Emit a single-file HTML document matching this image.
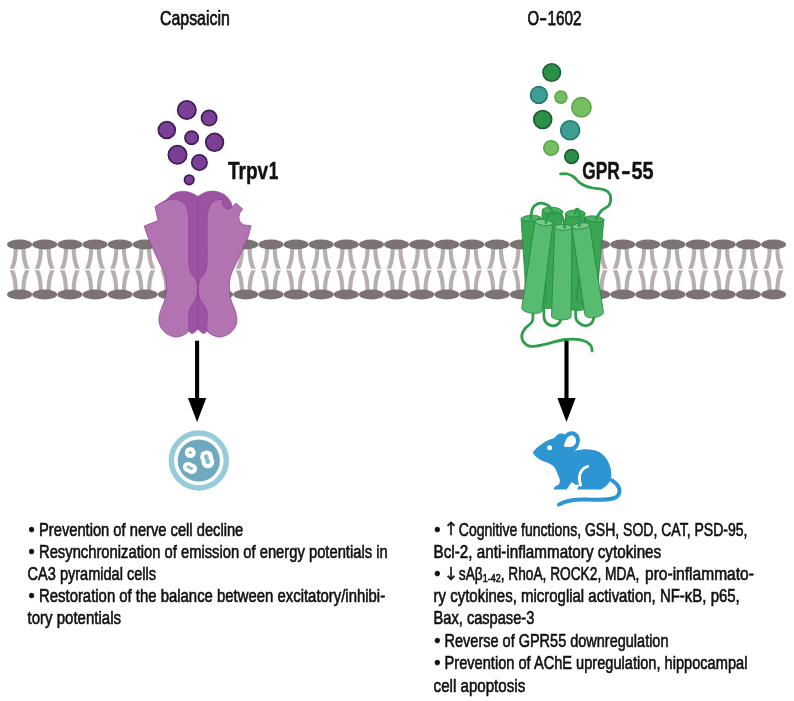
<!DOCTYPE html>
<html><head><meta charset="utf-8"><title>Figure</title>
<style>html,body{margin:0;padding:0;background:#fff;}svg{display:block;}</style>
</head><body><svg width="794" height="701" viewBox="0 0 794 701"><rect width="794" height="701" fill="#fff"/><g fill="#b8aeae"><path d="M13.70,247.00 C13.70,257.00 12.40,262.50 9.60,268.70 L14.20,268.70 C16.60,263.00 17.80,257.00 17.80,247.00 Z"/><path d="M13.70,292.00 C13.70,282.00 12.40,276.50 9.60,270.30 L14.20,270.30 C16.60,276.00 17.80,282.00 17.80,292.00 Z"/><path d="M25.50,247.00 C25.50,257.00 26.80,262.50 29.60,268.70 L25.00,268.70 C22.60,263.00 21.40,257.00 21.40,247.00 Z"/><path d="M25.50,292.00 C25.50,282.00 26.80,276.50 29.60,270.30 L25.00,270.30 C22.60,276.00 21.40,282.00 21.40,292.00 Z"/><path d="M38.83,247.00 C38.83,257.00 37.53,262.50 34.73,268.70 L39.33,268.70 C41.73,263.00 42.93,257.00 42.93,247.00 Z"/><path d="M38.83,292.00 C38.83,282.00 37.53,276.50 34.73,270.30 L39.33,270.30 C41.73,276.00 42.93,282.00 42.93,292.00 Z"/><path d="M50.63,247.00 C50.63,257.00 51.93,262.50 54.73,268.70 L50.13,268.70 C47.73,263.00 46.53,257.00 46.53,247.00 Z"/><path d="M50.63,292.00 C50.63,282.00 51.93,276.50 54.73,270.30 L50.13,270.30 C47.73,276.00 46.53,282.00 46.53,292.00 Z"/><path d="M63.96,247.00 C63.96,257.00 62.66,262.50 59.86,268.70 L64.46,268.70 C66.86,263.00 68.06,257.00 68.06,247.00 Z"/><path d="M63.96,292.00 C63.96,282.00 62.66,276.50 59.86,270.30 L64.46,270.30 C66.86,276.00 68.06,282.00 68.06,292.00 Z"/><path d="M75.76,247.00 C75.76,257.00 77.06,262.50 79.86,268.70 L75.26,268.70 C72.86,263.00 71.66,257.00 71.66,247.00 Z"/><path d="M75.76,292.00 C75.76,282.00 77.06,276.50 79.86,270.30 L75.26,270.30 C72.86,276.00 71.66,282.00 71.66,292.00 Z"/><path d="M89.09,247.00 C89.09,257.00 87.79,262.50 84.99,268.70 L89.59,268.70 C91.99,263.00 93.19,257.00 93.19,247.00 Z"/><path d="M89.09,292.00 C89.09,282.00 87.79,276.50 84.99,270.30 L89.59,270.30 C91.99,276.00 93.19,282.00 93.19,292.00 Z"/><path d="M100.89,247.00 C100.89,257.00 102.19,262.50 104.99,268.70 L100.39,268.70 C97.99,263.00 96.79,257.00 96.79,247.00 Z"/><path d="M100.89,292.00 C100.89,282.00 102.19,276.50 104.99,270.30 L100.39,270.30 C97.99,276.00 96.79,282.00 96.79,292.00 Z"/><path d="M114.22,247.00 C114.22,257.00 112.92,262.50 110.12,268.70 L114.72,268.70 C117.12,263.00 118.32,257.00 118.32,247.00 Z"/><path d="M114.22,292.00 C114.22,282.00 112.92,276.50 110.12,270.30 L114.72,270.30 C117.12,276.00 118.32,282.00 118.32,292.00 Z"/><path d="M126.02,247.00 C126.02,257.00 127.32,262.50 130.12,268.70 L125.52,268.70 C123.12,263.00 121.92,257.00 121.92,247.00 Z"/><path d="M126.02,292.00 C126.02,282.00 127.32,276.50 130.12,270.30 L125.52,270.30 C123.12,276.00 121.92,282.00 121.92,292.00 Z"/><path d="M139.35,247.00 C139.35,257.00 138.05,262.50 135.25,268.70 L139.85,268.70 C142.25,263.00 143.45,257.00 143.45,247.00 Z"/><path d="M139.35,292.00 C139.35,282.00 138.05,276.50 135.25,270.30 L139.85,270.30 C142.25,276.00 143.45,282.00 143.45,292.00 Z"/><path d="M151.15,247.00 C151.15,257.00 152.45,262.50 155.25,268.70 L150.65,268.70 C148.25,263.00 147.05,257.00 147.05,247.00 Z"/><path d="M151.15,292.00 C151.15,282.00 152.45,276.50 155.25,270.30 L150.65,270.30 C148.25,276.00 147.05,282.00 147.05,292.00 Z"/><path d="M164.48,247.00 C164.48,257.00 163.18,262.50 160.38,268.70 L164.98,268.70 C167.38,263.00 168.58,257.00 168.58,247.00 Z"/><path d="M164.48,292.00 C164.48,282.00 163.18,276.50 160.38,270.30 L164.98,270.30 C167.38,276.00 168.58,282.00 168.58,292.00 Z"/><path d="M176.28,247.00 C176.28,257.00 177.58,262.50 180.38,268.70 L175.78,268.70 C173.38,263.00 172.18,257.00 172.18,247.00 Z"/><path d="M176.28,292.00 C176.28,282.00 177.58,276.50 180.38,270.30 L175.78,270.30 C173.38,276.00 172.18,282.00 172.18,292.00 Z"/><path d="M189.61,247.00 C189.61,257.00 188.31,262.50 185.51,268.70 L190.11,268.70 C192.51,263.00 193.71,257.00 193.71,247.00 Z"/><path d="M189.61,292.00 C189.61,282.00 188.31,276.50 185.51,270.30 L190.11,270.30 C192.51,276.00 193.71,282.00 193.71,292.00 Z"/><path d="M201.41,247.00 C201.41,257.00 202.71,262.50 205.51,268.70 L200.91,268.70 C198.51,263.00 197.31,257.00 197.31,247.00 Z"/><path d="M201.41,292.00 C201.41,282.00 202.71,276.50 205.51,270.30 L200.91,270.30 C198.51,276.00 197.31,282.00 197.31,292.00 Z"/><path d="M214.74,247.00 C214.74,257.00 213.44,262.50 210.64,268.70 L215.24,268.70 C217.64,263.00 218.84,257.00 218.84,247.00 Z"/><path d="M214.74,292.00 C214.74,282.00 213.44,276.50 210.64,270.30 L215.24,270.30 C217.64,276.00 218.84,282.00 218.84,292.00 Z"/><path d="M226.54,247.00 C226.54,257.00 227.84,262.50 230.64,268.70 L226.04,268.70 C223.64,263.00 222.44,257.00 222.44,247.00 Z"/><path d="M226.54,292.00 C226.54,282.00 227.84,276.50 230.64,270.30 L226.04,270.30 C223.64,276.00 222.44,282.00 222.44,292.00 Z"/><path d="M239.87,247.00 C239.87,257.00 238.57,262.50 235.77,268.70 L240.37,268.70 C242.77,263.00 243.97,257.00 243.97,247.00 Z"/><path d="M239.87,292.00 C239.87,282.00 238.57,276.50 235.77,270.30 L240.37,270.30 C242.77,276.00 243.97,282.00 243.97,292.00 Z"/><path d="M251.67,247.00 C251.67,257.00 252.97,262.50 255.77,268.70 L251.17,268.70 C248.77,263.00 247.57,257.00 247.57,247.00 Z"/><path d="M251.67,292.00 C251.67,282.00 252.97,276.50 255.77,270.30 L251.17,270.30 C248.77,276.00 247.57,282.00 247.57,292.00 Z"/><path d="M265.00,247.00 C265.00,257.00 263.70,262.50 260.90,268.70 L265.50,268.70 C267.90,263.00 269.10,257.00 269.10,247.00 Z"/><path d="M265.00,292.00 C265.00,282.00 263.70,276.50 260.90,270.30 L265.50,270.30 C267.90,276.00 269.10,282.00 269.10,292.00 Z"/><path d="M276.80,247.00 C276.80,257.00 278.10,262.50 280.90,268.70 L276.30,268.70 C273.90,263.00 272.70,257.00 272.70,247.00 Z"/><path d="M276.80,292.00 C276.80,282.00 278.10,276.50 280.90,270.30 L276.30,270.30 C273.90,276.00 272.70,282.00 272.70,292.00 Z"/><path d="M290.13,247.00 C290.13,257.00 288.83,262.50 286.03,268.70 L290.63,268.70 C293.03,263.00 294.23,257.00 294.23,247.00 Z"/><path d="M290.13,292.00 C290.13,282.00 288.83,276.50 286.03,270.30 L290.63,270.30 C293.03,276.00 294.23,282.00 294.23,292.00 Z"/><path d="M301.93,247.00 C301.93,257.00 303.23,262.50 306.03,268.70 L301.43,268.70 C299.03,263.00 297.83,257.00 297.83,247.00 Z"/><path d="M301.93,292.00 C301.93,282.00 303.23,276.50 306.03,270.30 L301.43,270.30 C299.03,276.00 297.83,282.00 297.83,292.00 Z"/><path d="M315.26,247.00 C315.26,257.00 313.96,262.50 311.16,268.70 L315.76,268.70 C318.16,263.00 319.36,257.00 319.36,247.00 Z"/><path d="M315.26,292.00 C315.26,282.00 313.96,276.50 311.16,270.30 L315.76,270.30 C318.16,276.00 319.36,282.00 319.36,292.00 Z"/><path d="M327.06,247.00 C327.06,257.00 328.36,262.50 331.16,268.70 L326.56,268.70 C324.16,263.00 322.96,257.00 322.96,247.00 Z"/><path d="M327.06,292.00 C327.06,282.00 328.36,276.50 331.16,270.30 L326.56,270.30 C324.16,276.00 322.96,282.00 322.96,292.00 Z"/><path d="M340.39,247.00 C340.39,257.00 339.09,262.50 336.29,268.70 L340.89,268.70 C343.29,263.00 344.49,257.00 344.49,247.00 Z"/><path d="M340.39,292.00 C340.39,282.00 339.09,276.50 336.29,270.30 L340.89,270.30 C343.29,276.00 344.49,282.00 344.49,292.00 Z"/><path d="M352.19,247.00 C352.19,257.00 353.49,262.50 356.29,268.70 L351.69,268.70 C349.29,263.00 348.09,257.00 348.09,247.00 Z"/><path d="M352.19,292.00 C352.19,282.00 353.49,276.50 356.29,270.30 L351.69,270.30 C349.29,276.00 348.09,282.00 348.09,292.00 Z"/><path d="M365.52,247.00 C365.52,257.00 364.22,262.50 361.42,268.70 L366.02,268.70 C368.42,263.00 369.62,257.00 369.62,247.00 Z"/><path d="M365.52,292.00 C365.52,282.00 364.22,276.50 361.42,270.30 L366.02,270.30 C368.42,276.00 369.62,282.00 369.62,292.00 Z"/><path d="M377.32,247.00 C377.32,257.00 378.62,262.50 381.42,268.70 L376.82,268.70 C374.42,263.00 373.22,257.00 373.22,247.00 Z"/><path d="M377.32,292.00 C377.32,282.00 378.62,276.50 381.42,270.30 L376.82,270.30 C374.42,276.00 373.22,282.00 373.22,292.00 Z"/><path d="M390.65,247.00 C390.65,257.00 389.35,262.50 386.55,268.70 L391.15,268.70 C393.55,263.00 394.75,257.00 394.75,247.00 Z"/><path d="M390.65,292.00 C390.65,282.00 389.35,276.50 386.55,270.30 L391.15,270.30 C393.55,276.00 394.75,282.00 394.75,292.00 Z"/><path d="M402.45,247.00 C402.45,257.00 403.75,262.50 406.55,268.70 L401.95,268.70 C399.55,263.00 398.35,257.00 398.35,247.00 Z"/><path d="M402.45,292.00 C402.45,282.00 403.75,276.50 406.55,270.30 L401.95,270.30 C399.55,276.00 398.35,282.00 398.35,292.00 Z"/><path d="M415.78,247.00 C415.78,257.00 414.48,262.50 411.68,268.70 L416.28,268.70 C418.68,263.00 419.88,257.00 419.88,247.00 Z"/><path d="M415.78,292.00 C415.78,282.00 414.48,276.50 411.68,270.30 L416.28,270.30 C418.68,276.00 419.88,282.00 419.88,292.00 Z"/><path d="M427.58,247.00 C427.58,257.00 428.88,262.50 431.68,268.70 L427.08,268.70 C424.68,263.00 423.48,257.00 423.48,247.00 Z"/><path d="M427.58,292.00 C427.58,282.00 428.88,276.50 431.68,270.30 L427.08,270.30 C424.68,276.00 423.48,282.00 423.48,292.00 Z"/><path d="M440.91,247.00 C440.91,257.00 439.61,262.50 436.81,268.70 L441.41,268.70 C443.81,263.00 445.01,257.00 445.01,247.00 Z"/><path d="M440.91,292.00 C440.91,282.00 439.61,276.50 436.81,270.30 L441.41,270.30 C443.81,276.00 445.01,282.00 445.01,292.00 Z"/><path d="M452.71,247.00 C452.71,257.00 454.01,262.50 456.81,268.70 L452.21,268.70 C449.81,263.00 448.61,257.00 448.61,247.00 Z"/><path d="M452.71,292.00 C452.71,282.00 454.01,276.50 456.81,270.30 L452.21,270.30 C449.81,276.00 448.61,282.00 448.61,292.00 Z"/><path d="M466.04,247.00 C466.04,257.00 464.74,262.50 461.94,268.70 L466.54,268.70 C468.94,263.00 470.14,257.00 470.14,247.00 Z"/><path d="M466.04,292.00 C466.04,282.00 464.74,276.50 461.94,270.30 L466.54,270.30 C468.94,276.00 470.14,282.00 470.14,292.00 Z"/><path d="M477.84,247.00 C477.84,257.00 479.14,262.50 481.94,268.70 L477.34,268.70 C474.94,263.00 473.74,257.00 473.74,247.00 Z"/><path d="M477.84,292.00 C477.84,282.00 479.14,276.50 481.94,270.30 L477.34,270.30 C474.94,276.00 473.74,282.00 473.74,292.00 Z"/><path d="M491.17,247.00 C491.17,257.00 489.87,262.50 487.07,268.70 L491.67,268.70 C494.07,263.00 495.27,257.00 495.27,247.00 Z"/><path d="M491.17,292.00 C491.17,282.00 489.87,276.50 487.07,270.30 L491.67,270.30 C494.07,276.00 495.27,282.00 495.27,292.00 Z"/><path d="M502.97,247.00 C502.97,257.00 504.27,262.50 507.07,268.70 L502.47,268.70 C500.07,263.00 498.87,257.00 498.87,247.00 Z"/><path d="M502.97,292.00 C502.97,282.00 504.27,276.50 507.07,270.30 L502.47,270.30 C500.07,276.00 498.87,282.00 498.87,292.00 Z"/><path d="M516.30,247.00 C516.30,257.00 515.00,262.50 512.20,268.70 L516.80,268.70 C519.20,263.00 520.40,257.00 520.40,247.00 Z"/><path d="M516.30,292.00 C516.30,282.00 515.00,276.50 512.20,270.30 L516.80,270.30 C519.20,276.00 520.40,282.00 520.40,292.00 Z"/><path d="M528.10,247.00 C528.10,257.00 529.40,262.50 532.20,268.70 L527.60,268.70 C525.20,263.00 524.00,257.00 524.00,247.00 Z"/><path d="M528.10,292.00 C528.10,282.00 529.40,276.50 532.20,270.30 L527.60,270.30 C525.20,276.00 524.00,282.00 524.00,292.00 Z"/><path d="M541.43,247.00 C541.43,257.00 540.13,262.50 537.33,268.70 L541.93,268.70 C544.33,263.00 545.53,257.00 545.53,247.00 Z"/><path d="M541.43,292.00 C541.43,282.00 540.13,276.50 537.33,270.30 L541.93,270.30 C544.33,276.00 545.53,282.00 545.53,292.00 Z"/><path d="M553.23,247.00 C553.23,257.00 554.53,262.50 557.33,268.70 L552.73,268.70 C550.33,263.00 549.13,257.00 549.13,247.00 Z"/><path d="M553.23,292.00 C553.23,282.00 554.53,276.50 557.33,270.30 L552.73,270.30 C550.33,276.00 549.13,282.00 549.13,292.00 Z"/><path d="M566.56,247.00 C566.56,257.00 565.26,262.50 562.46,268.70 L567.06,268.70 C569.46,263.00 570.66,257.00 570.66,247.00 Z"/><path d="M566.56,292.00 C566.56,282.00 565.26,276.50 562.46,270.30 L567.06,270.30 C569.46,276.00 570.66,282.00 570.66,292.00 Z"/><path d="M578.36,247.00 C578.36,257.00 579.66,262.50 582.46,268.70 L577.86,268.70 C575.46,263.00 574.26,257.00 574.26,247.00 Z"/><path d="M578.36,292.00 C578.36,282.00 579.66,276.50 582.46,270.30 L577.86,270.30 C575.46,276.00 574.26,282.00 574.26,292.00 Z"/><path d="M591.69,247.00 C591.69,257.00 590.39,262.50 587.59,268.70 L592.19,268.70 C594.59,263.00 595.79,257.00 595.79,247.00 Z"/><path d="M591.69,292.00 C591.69,282.00 590.39,276.50 587.59,270.30 L592.19,270.30 C594.59,276.00 595.79,282.00 595.79,292.00 Z"/><path d="M603.49,247.00 C603.49,257.00 604.79,262.50 607.59,268.70 L602.99,268.70 C600.59,263.00 599.39,257.00 599.39,247.00 Z"/><path d="M603.49,292.00 C603.49,282.00 604.79,276.50 607.59,270.30 L602.99,270.30 C600.59,276.00 599.39,282.00 599.39,292.00 Z"/><path d="M616.82,247.00 C616.82,257.00 615.52,262.50 612.72,268.70 L617.32,268.70 C619.72,263.00 620.92,257.00 620.92,247.00 Z"/><path d="M616.82,292.00 C616.82,282.00 615.52,276.50 612.72,270.30 L617.32,270.30 C619.72,276.00 620.92,282.00 620.92,292.00 Z"/><path d="M628.62,247.00 C628.62,257.00 629.92,262.50 632.72,268.70 L628.12,268.70 C625.72,263.00 624.52,257.00 624.52,247.00 Z"/><path d="M628.62,292.00 C628.62,282.00 629.92,276.50 632.72,270.30 L628.12,270.30 C625.72,276.00 624.52,282.00 624.52,292.00 Z"/><path d="M641.95,247.00 C641.95,257.00 640.65,262.50 637.85,268.70 L642.45,268.70 C644.85,263.00 646.05,257.00 646.05,247.00 Z"/><path d="M641.95,292.00 C641.95,282.00 640.65,276.50 637.85,270.30 L642.45,270.30 C644.85,276.00 646.05,282.00 646.05,292.00 Z"/><path d="M653.75,247.00 C653.75,257.00 655.05,262.50 657.85,268.70 L653.25,268.70 C650.85,263.00 649.65,257.00 649.65,247.00 Z"/><path d="M653.75,292.00 C653.75,282.00 655.05,276.50 657.85,270.30 L653.25,270.30 C650.85,276.00 649.65,282.00 649.65,292.00 Z"/><path d="M667.08,247.00 C667.08,257.00 665.78,262.50 662.98,268.70 L667.58,268.70 C669.98,263.00 671.18,257.00 671.18,247.00 Z"/><path d="M667.08,292.00 C667.08,282.00 665.78,276.50 662.98,270.30 L667.58,270.30 C669.98,276.00 671.18,282.00 671.18,292.00 Z"/><path d="M678.88,247.00 C678.88,257.00 680.18,262.50 682.98,268.70 L678.38,268.70 C675.98,263.00 674.78,257.00 674.78,247.00 Z"/><path d="M678.88,292.00 C678.88,282.00 680.18,276.50 682.98,270.30 L678.38,270.30 C675.98,276.00 674.78,282.00 674.78,292.00 Z"/><path d="M692.21,247.00 C692.21,257.00 690.91,262.50 688.11,268.70 L692.71,268.70 C695.11,263.00 696.31,257.00 696.31,247.00 Z"/><path d="M692.21,292.00 C692.21,282.00 690.91,276.50 688.11,270.30 L692.71,270.30 C695.11,276.00 696.31,282.00 696.31,292.00 Z"/><path d="M704.01,247.00 C704.01,257.00 705.31,262.50 708.11,268.70 L703.51,268.70 C701.11,263.00 699.91,257.00 699.91,247.00 Z"/><path d="M704.01,292.00 C704.01,282.00 705.31,276.50 708.11,270.30 L703.51,270.30 C701.11,276.00 699.91,282.00 699.91,292.00 Z"/><path d="M717.34,247.00 C717.34,257.00 716.04,262.50 713.24,268.70 L717.84,268.70 C720.24,263.00 721.44,257.00 721.44,247.00 Z"/><path d="M717.34,292.00 C717.34,282.00 716.04,276.50 713.24,270.30 L717.84,270.30 C720.24,276.00 721.44,282.00 721.44,292.00 Z"/><path d="M729.14,247.00 C729.14,257.00 730.44,262.50 733.24,268.70 L728.64,268.70 C726.24,263.00 725.04,257.00 725.04,247.00 Z"/><path d="M729.14,292.00 C729.14,282.00 730.44,276.50 733.24,270.30 L728.64,270.30 C726.24,276.00 725.04,282.00 725.04,292.00 Z"/><path d="M742.47,247.00 C742.47,257.00 741.17,262.50 738.37,268.70 L742.97,268.70 C745.37,263.00 746.57,257.00 746.57,247.00 Z"/><path d="M742.47,292.00 C742.47,282.00 741.17,276.50 738.37,270.30 L742.97,270.30 C745.37,276.00 746.57,282.00 746.57,292.00 Z"/><path d="M754.27,247.00 C754.27,257.00 755.57,262.50 758.37,268.70 L753.77,268.70 C751.37,263.00 750.17,257.00 750.17,247.00 Z"/><path d="M754.27,292.00 C754.27,282.00 755.57,276.50 758.37,270.30 L753.77,270.30 C751.37,276.00 750.17,282.00 750.17,292.00 Z"/><path d="M767.60,247.00 C767.60,257.00 766.30,262.50 763.50,268.70 L768.10,268.70 C770.50,263.00 771.70,257.00 771.70,247.00 Z"/><path d="M767.60,292.00 C767.60,282.00 766.30,276.50 763.50,270.30 L768.10,270.30 C770.50,276.00 771.70,282.00 771.70,292.00 Z"/><path d="M779.40,247.00 C779.40,257.00 780.70,262.50 783.50,268.70 L778.90,268.70 C776.50,263.00 775.30,257.00 775.30,247.00 Z"/><path d="M779.40,292.00 C779.40,282.00 780.70,276.50 783.50,270.30 L778.90,270.30 C776.50,276.00 775.30,282.00 775.30,292.00 Z"/></g><g fill="#7b7373"><ellipse cx="19.60" cy="244.5" rx="12.5" ry="5"/><ellipse cx="19.60" cy="294.5" rx="12.5" ry="5"/><ellipse cx="44.73" cy="244.5" rx="12.5" ry="5"/><ellipse cx="44.73" cy="294.5" rx="12.5" ry="5"/><ellipse cx="69.86" cy="244.5" rx="12.5" ry="5"/><ellipse cx="69.86" cy="294.5" rx="12.5" ry="5"/><ellipse cx="94.99" cy="244.5" rx="12.5" ry="5"/><ellipse cx="94.99" cy="294.5" rx="12.5" ry="5"/><ellipse cx="120.12" cy="244.5" rx="12.5" ry="5"/><ellipse cx="120.12" cy="294.5" rx="12.5" ry="5"/><ellipse cx="145.25" cy="244.5" rx="12.5" ry="5"/><ellipse cx="145.25" cy="294.5" rx="12.5" ry="5"/><ellipse cx="170.38" cy="244.5" rx="12.5" ry="5"/><ellipse cx="170.38" cy="294.5" rx="12.5" ry="5"/><ellipse cx="195.51" cy="244.5" rx="12.5" ry="5"/><ellipse cx="195.51" cy="294.5" rx="12.5" ry="5"/><ellipse cx="220.64" cy="244.5" rx="12.5" ry="5"/><ellipse cx="220.64" cy="294.5" rx="12.5" ry="5"/><ellipse cx="245.77" cy="244.5" rx="12.5" ry="5"/><ellipse cx="245.77" cy="294.5" rx="12.5" ry="5"/><ellipse cx="270.90" cy="244.5" rx="12.5" ry="5"/><ellipse cx="270.90" cy="294.5" rx="12.5" ry="5"/><ellipse cx="296.03" cy="244.5" rx="12.5" ry="5"/><ellipse cx="296.03" cy="294.5" rx="12.5" ry="5"/><ellipse cx="321.16" cy="244.5" rx="12.5" ry="5"/><ellipse cx="321.16" cy="294.5" rx="12.5" ry="5"/><ellipse cx="346.29" cy="244.5" rx="12.5" ry="5"/><ellipse cx="346.29" cy="294.5" rx="12.5" ry="5"/><ellipse cx="371.42" cy="244.5" rx="12.5" ry="5"/><ellipse cx="371.42" cy="294.5" rx="12.5" ry="5"/><ellipse cx="396.55" cy="244.5" rx="12.5" ry="5"/><ellipse cx="396.55" cy="294.5" rx="12.5" ry="5"/><ellipse cx="421.68" cy="244.5" rx="12.5" ry="5"/><ellipse cx="421.68" cy="294.5" rx="12.5" ry="5"/><ellipse cx="446.81" cy="244.5" rx="12.5" ry="5"/><ellipse cx="446.81" cy="294.5" rx="12.5" ry="5"/><ellipse cx="471.94" cy="244.5" rx="12.5" ry="5"/><ellipse cx="471.94" cy="294.5" rx="12.5" ry="5"/><ellipse cx="497.07" cy="244.5" rx="12.5" ry="5"/><ellipse cx="497.07" cy="294.5" rx="12.5" ry="5"/><ellipse cx="522.20" cy="244.5" rx="12.5" ry="5"/><ellipse cx="522.20" cy="294.5" rx="12.5" ry="5"/><ellipse cx="547.33" cy="244.5" rx="12.5" ry="5"/><ellipse cx="547.33" cy="294.5" rx="12.5" ry="5"/><ellipse cx="572.46" cy="244.5" rx="12.5" ry="5"/><ellipse cx="572.46" cy="294.5" rx="12.5" ry="5"/><ellipse cx="597.59" cy="244.5" rx="12.5" ry="5"/><ellipse cx="597.59" cy="294.5" rx="12.5" ry="5"/><ellipse cx="622.72" cy="244.5" rx="12.5" ry="5"/><ellipse cx="622.72" cy="294.5" rx="12.5" ry="5"/><ellipse cx="647.85" cy="244.5" rx="12.5" ry="5"/><ellipse cx="647.85" cy="294.5" rx="12.5" ry="5"/><ellipse cx="672.98" cy="244.5" rx="12.5" ry="5"/><ellipse cx="672.98" cy="294.5" rx="12.5" ry="5"/><ellipse cx="698.11" cy="244.5" rx="12.5" ry="5"/><ellipse cx="698.11" cy="294.5" rx="12.5" ry="5"/><ellipse cx="723.24" cy="244.5" rx="12.5" ry="5"/><ellipse cx="723.24" cy="294.5" rx="12.5" ry="5"/><ellipse cx="748.37" cy="244.5" rx="12.5" ry="5"/><ellipse cx="748.37" cy="294.5" rx="12.5" ry="5"/><ellipse cx="773.50" cy="244.5" rx="12.5" ry="5"/><ellipse cx="773.50" cy="294.5" rx="12.5" ry="5"/></g><g fill="#7b3f98" stroke="#3e1d53" stroke-width="1.7" transform="translate(0,0.3)"><circle cx="186.8" cy="109.7" r="9.15"/><circle cx="209.1" cy="117.8" r="7.65"/><circle cx="166.8" cy="129.7" r="8.45"/><circle cx="191.6" cy="137.4" r="6.65"/><circle cx="214.6" cy="142" r="8.85"/><circle cx="177.5" cy="154.5" r="9.15"/><circle cx="199.4" cy="162.1" r="7.65"/><circle cx="189.2" cy="179.5" r="4.75"/></g><g stroke-width="1.7"><circle cx="551.7" cy="72.5" r="8.75" fill="#2a8f47" stroke="#1b6030"/><circle cx="538.9" cy="94.9" r="8.35" fill="#3e9e92" stroke="#237872"/><circle cx="560.9" cy="97.1" r="5.95" fill="#75bf62" stroke="#5aa849"/><circle cx="581.4" cy="107.3" r="9.65" fill="#75bf62" stroke="#5aa849"/><circle cx="542.7" cy="119.5" r="8.95" fill="#2a8f47" stroke="#1b6030"/><circle cx="570.1" cy="130.2" r="9.45" fill="#3e9e92" stroke="#237872"/><circle cx="551.1" cy="148" r="7.25" fill="#75bf62" stroke="#5aa849"/><circle cx="571.6" cy="156.5" r="6.85" fill="#2a8f47" stroke="#1b6030"/></g><g stroke-linejoin="round"><path d="M155.10,206.90C156.98,205.65 163.50,201.53 166.40,199.40 C169.30,197.27 170.10,195.45 172.50,194.10 C174.90,192.75 177.90,191.60 180.80,191.30 C183.70,191.00 187.05,191.47 189.90,192.30 C192.75,193.13 196.57,195.63 197.90,196.30C199.33,195.55 203.55,192.63 206.50,191.80 C209.45,190.97 212.58,190.80 215.60,191.30 C218.62,191.80 222.08,193.08 224.60,194.80 C227.12,196.52 229.43,199.58 230.70,201.60 C231.97,203.62 231.95,206.02 232.20,206.90L225.00,215.00 L215.00,330.00 L207.30,331.00C206.63,331.43 204.87,333.88 203.30,333.60 C201.73,333.32 198.80,330.02 197.90,329.30C197.00,330.02 194.08,333.32 192.50,333.60 C190.92,333.88 189.08,331.43 188.40,331.00L180.00,330.00 L170.00,215.00Z" fill="#9c53a2" stroke="#9142a2" stroke-width="0.5"/><path d="M197.9,196.3 L197.9,329" stroke="#8f459b" stroke-width="0.8" fill="none"/><path d="M155.10,206.90C156.37,206.07 159.80,203.15 162.70,201.90 C165.60,200.65 169.48,199.57 172.50,199.40 C175.52,199.23 178.53,199.77 180.80,200.90 C183.07,202.03 184.83,203.82 186.10,206.20 C187.37,208.58 187.97,211.23 188.40,215.20 C188.83,219.17 188.65,222.53 188.70,230.00 C188.75,237.47 188.63,254.00 188.70,260.00 C188.77,266.00 188.65,263.73 189.10,266.00 C189.55,268.27 190.22,271.27 191.40,273.60 C192.58,275.93 195.22,277.60 196.20,280.00 C197.18,282.40 197.20,285.33 197.30,288.00 C197.40,290.67 197.28,293.73 196.80,296.00 C196.32,298.27 195.55,299.53 194.40,301.60 C193.25,303.67 190.90,305.77 189.90,308.40 C188.90,311.03 188.53,314.38 188.40,317.40 C188.27,320.42 189.10,324.23 189.10,326.50 C189.10,328.77 189.03,329.73 188.40,331.00 C187.77,332.27 187.32,333.08 185.30,334.10 C183.28,335.12 179.32,337.10 176.30,337.10 C173.28,337.10 169.72,335.62 167.20,334.10 C164.68,332.58 162.58,330.27 161.20,328.00 C159.82,325.73 159.03,323.27 158.90,320.50 C158.77,317.73 159.40,314.93 160.40,311.40 C161.40,307.87 163.90,303.33 164.90,299.30 C165.90,295.27 166.40,291.23 166.40,287.20 C166.40,283.17 166.28,279.63 164.90,275.10 C163.52,270.57 160.37,265.02 158.10,260.00 C155.83,254.98 152.93,248.68 151.30,245.00 C149.67,241.32 149.48,241.05 148.30,237.90 C147.12,234.75 144.88,228.07 144.20,226.10L158.10,220.50Z" fill="#b274b0" stroke="#9142a2" stroke-width="0.8"/><path d="M251.10,225.80L244.30,225.00C243.68,224.58 241.50,223.67 240.60,222.50 C239.70,221.33 239.05,219.58 238.90,218.00 C238.75,216.42 239.57,213.83 239.70,213.00L242.80,209.20 L236.00,203.10 L232.20,206.90C231.82,207.23 231.03,208.65 229.90,208.90 C228.77,209.15 226.65,209.12 225.40,208.40 C224.15,207.68 222.83,205.98 222.40,204.60 C221.97,203.22 222.73,200.85 222.80,200.10C222.35,199.98 221.55,199.27 220.10,199.40 C218.65,199.53 215.85,199.77 214.10,200.90 C212.35,202.03 210.72,203.82 209.60,206.20 C208.48,208.58 207.82,211.23 207.40,215.20 C206.98,219.17 207.15,222.53 207.10,230.00 C207.05,237.47 207.17,254.00 207.10,260.00 C207.03,266.00 207.15,263.73 206.70,266.00 C206.25,268.27 205.58,271.27 204.40,273.60 C203.22,275.93 200.58,277.60 199.60,280.00 C198.62,282.40 198.60,285.33 198.50,288.00 C198.40,290.67 198.52,293.73 199.00,296.00 C199.48,298.27 200.25,299.53 201.40,301.60 C202.55,303.67 204.90,305.77 205.90,308.40 C206.90,311.03 207.27,314.38 207.40,317.40 C207.53,320.42 206.70,324.23 206.70,326.50 C206.70,328.77 206.77,329.73 207.40,331.00 C208.03,332.27 208.48,333.08 210.50,334.10 C212.52,335.12 216.48,337.10 219.50,337.10 C222.52,337.10 226.08,335.62 228.60,334.10 C231.12,332.58 233.22,330.27 234.60,328.00 C235.98,325.73 236.77,323.27 236.90,320.50 C237.03,317.73 236.40,314.93 235.40,311.40 C234.40,307.87 231.90,303.33 230.90,299.30 C229.90,295.27 229.40,291.23 229.40,287.20 C229.40,283.17 229.52,279.63 230.90,275.10 C232.28,270.57 235.43,265.02 237.70,260.00 C239.97,254.98 242.82,248.68 244.50,245.00 C246.18,241.32 246.70,241.10 247.80,237.90 C248.90,234.70 250.55,227.82 251.10,225.80Z" fill="#b274b0" stroke="#9142a2" stroke-width="0.8"/></g><g stroke-linecap="round" stroke-linejoin="round"><path d="M542.32,210.11 L536.72,304.41 A10.00,3.50 3.40 0 0 556.68,305.59 L562.28,211.29 Z" fill="#3aa553" stroke="#218b3d" stroke-width="0.85"/><ellipse cx="552.30" cy="210.70" rx="10.00" ry="3.50" transform="rotate(3.40 552.30 210.70)" fill="#4cb365" stroke="#218b3d" stroke-width="0.85"/><path d="M565.40,213.79 L567.90,307.30 A10.00,3.50 -1.72 0 0 587.90,306.70 L584.80,213.21 Z" fill="#3aa553" stroke="#218b3d" stroke-width="0.85"/><ellipse cx="575.10" cy="213.50" rx="9.70" ry="3.50" transform="rotate(-1.72 575.10 213.50)" fill="#4cb365" stroke="#218b3d" stroke-width="0.85"/><path d="M543.90,308.00C544.02,310.02 543.32,317.15 544.60,320.10 C545.88,323.05 549.28,325.12 551.60,325.70 C553.92,326.28 556.77,325.05 558.50,323.60 C560.23,322.15 561.42,318.10 562.00,317.00" fill="none" stroke="#2f9e4a" stroke-width="2.8"/><path d="M575.80,309.00C575.92,310.85 575.00,317.32 576.50,320.10 C578.00,322.88 582.27,325.23 584.80,325.70 C587.33,326.17 590.08,324.52 591.70,322.90 C593.32,321.28 594.03,317.15 594.50,316.00" fill="none" stroke="#2f9e4a" stroke-width="2.8"/><path d="M532.90,312.00C532.78,313.58 533.48,318.77 532.20,321.50 C530.92,324.23 526.93,326.08 525.20,328.40 C523.47,330.72 522.02,333.08 521.80,335.40 C521.58,337.72 522.40,340.47 523.90,342.30 C525.40,344.13 527.35,346.05 530.80,346.40 C534.25,346.75 538.83,345.55 544.60,344.40 C550.37,343.25 559.17,340.20 565.40,339.50 C571.63,338.80 577.83,339.28 582.00,340.20 C586.17,341.12 588.70,343.20 590.40,345.00 C592.10,346.80 591.90,350.00 592.20,351.00" fill="none" stroke="#2f9e4a" stroke-width="2.8"/><path d="M521.12,218.98 L526.52,300.70 A10.00,3.60 -3.99 0 0 546.48,299.30 L540.48,217.62 Z" fill="#3aa553" stroke="#218b3d" stroke-width="0.85"/><ellipse cx="530.80" cy="218.30" rx="9.70" ry="3.00" transform="rotate(-3.99 530.80 218.30)" fill="#4cb365" stroke="#218b3d" stroke-width="0.85"/><path d="M585.15,218.08 L576.55,299.02 A10.00,3.60 5.64 0 0 596.45,300.98 L603.85,219.92 Z" fill="#3aa553" stroke="#218b3d" stroke-width="0.85"/><ellipse cx="594.50" cy="219.00" rx="9.40" ry="3.00" transform="rotate(5.64 594.50 219.00)" fill="#4cb365" stroke="#218b3d" stroke-width="0.85"/><path d="M560.60,173.90C561.77,173.92 565.38,173.48 567.60,174.00 C569.82,174.52 572.02,175.65 573.90,177.00 C575.78,178.35 577.02,180.62 578.90,182.10 C580.78,183.58 582.90,184.92 585.20,185.90 C587.50,186.88 589.77,187.43 592.70,188.00 C595.63,188.57 600.27,188.68 602.80,189.30 C605.33,189.92 606.60,190.43 607.90,191.70 C609.20,192.97 610.40,194.65 610.60,196.90 C610.80,199.15 610.63,202.90 609.10,205.20 C607.57,207.50 603.60,208.40 601.40,210.70 C599.20,213.00 596.82,217.62 595.90,219.00" fill="none" stroke="#2f9e4a" stroke-width="2.8"/><path d="M530.80,218.30C531.15,216.57 531.28,210.43 532.90,207.90 C534.52,205.37 537.85,203.43 540.50,203.10 C543.15,202.77 546.83,204.52 548.80,205.90 C550.77,207.28 551.72,210.48 552.30,211.40" fill="none" stroke="#2f9e4a" stroke-width="2.8"/><path d="M534.98,221.27 L521.80,308.00 A10.20,4.00 7.86 0 0 542.00,310.80 L552.82,223.73 Z" fill="#57bb70" stroke="#218b3d" stroke-width="0.85"/><ellipse cx="543.90" cy="222.50" rx="9.00" ry="3.00" transform="rotate(7.86 543.90 222.50)" fill="#7ac98b" stroke="#218b3d" stroke-width="0.85"/><path d="M571.81,227.37 L584.91,315.03 A9.40,4.00 -8.76 0 0 603.49,312.17 L589.59,224.63 Z" fill="#57bb70" stroke="#218b3d" stroke-width="0.85"/><ellipse cx="580.70" cy="226.00" rx="9.00" ry="3.00" transform="rotate(-8.76 580.70 226.00)" fill="#7ac98b" stroke="#218b3d" stroke-width="0.85"/><path d="M575.10,213.50C575.33,212.77 575.80,209.33 576.50,209.10 C577.20,208.87 578.83,209.28 579.30,212.10 C579.77,214.92 579.30,223.68 579.30,226.00" fill="none" stroke="#2f9e4a" stroke-width="2.8"/><path d="M554.70,227.11 L551.50,316.08 A9.80,3.60 1.29 0 0 571.10,316.52 L571.90,227.49 Z" fill="#57bb70" stroke="#218b3d" stroke-width="0.85"/><ellipse cx="563.30" cy="227.30" rx="8.60" ry="3.00" transform="rotate(1.29 563.30 227.30)" fill="#7ac98b" stroke="#218b3d" stroke-width="0.85"/><path d="M546.00,222.50C546.23,221.47 546.02,218.03 547.40,216.30 C548.78,214.57 551.87,212.10 554.30,212.10 C556.73,212.10 560.27,213.77 562.00,216.30 C563.73,218.83 564.25,225.47 564.70,227.30" fill="none" stroke="#2f9e4a" stroke-width="2.8"/></g><rect x="195.05" y="340.7" width="4.1" height="58" fill="#000"/><path d="M187.95,398 L206.25,398 L197.1,422 Z" fill="#000"/><rect x="564.45" y="340.7" width="4.1" height="58" fill="#000"/><path d="M557.35,398 L575.65,398 L566.5,422 Z" fill="#000"/><circle cx="198.8" cy="460.5" r="27.45" fill="none" stroke="#98cbd9" stroke-width="5.5"/><circle cx="198.8" cy="460.5" r="21.1" fill="#6fa9bf"/><g transform="translate(160,420) scale(0.11412)"><circle cx="265" cy="285" r="34" fill="#fff" stroke="#fff" stroke-width="28"/><circle cx="265" cy="285" r="14" fill="#7fbfce"/><circle cx="408" cy="323" r="56" fill="#fff"/><circle cx="420" cy="367" r="56" fill="#fff"/><circle cx="405" cy="322" r="21" fill="#7fbfce"/><circle cx="419" cy="365" r="21" fill="#7fbfce"/><path d="M405,322 L419,365" stroke="#7fbfce" stroke-width="32"/><circle cx="246" cy="411" r="46" fill="#fff"/><circle cx="279" cy="428" r="46" fill="#fff"/><circle cx="247" cy="411" r="14.5" fill="#7fbfce"/><circle cx="274" cy="424" r="14.5" fill="#7fbfce"/><path d="M247,411 L274,424" stroke="#7fbfce" stroke-width="21"/></g><g transform="translate(525,425) scale(0.12594)"><path d="M65,212 C60,222 70,235 90,255 C120,285 180,295 225,325 C245,345 255,380 275,430 C280,450 275,468 262,476 C240,482 228,495 230,512 L330,512 C345,490 360,470 372,455 C385,460 395,468 402,476 C415,470 430,470 440,478 C425,485 415,498 416,512 L600,512 C650,490 685,450 685,400 C690,330 650,250 590,215 C540,190 470,185 400,205 L385,215 C430,180 450,120 425,80 C400,40 345,40 318,75 C300,65 275,65 255,80 C240,90 240,100 230,105 C180,115 110,160 65,212 Z" fill="#2c95d2"/><path d="M690,440 C740,470 770,520 735,565 C700,600 600,595 500,592 C420,588 340,590 268,632" fill="none" stroke="#2c95d2" stroke-width="31" stroke-linecap="round"/><path d="M309.70,163.80C309.08,156.17 317.00,139.00 322.00,128.00 C327.00,117.00 330.75,105.50 339.70,97.80 C348.65,90.10 365.37,80.13 375.70,81.80 C386.03,83.47 397.53,96.63 401.70,107.80 C405.87,118.97 406.20,137.97 400.70,148.80 C395.20,159.63 381.20,168.63 368.70,172.80 C356.20,176.97 335.53,175.30 325.70,173.80 C315.87,172.30 310.32,171.43 309.70,163.80Z" fill="#fff"/><circle cx="195.5" cy="180" r="20" fill="#fff"/><path d="M497,328 C455,340 432,380 432,425 C432,445 436,460 442,476" fill="none" stroke="#fff" stroke-width="23" stroke-linecap="round"/></g><g font-family='"Liberation Sans", sans-serif' fill="#111" stroke="#111" stroke-width="0.6" style="filter:grayscale(1)"><text x="160.0" y="24.8" font-size="20.8" font-weight="normal" textLength="69.8" lengthAdjust="spacingAndGlyphs" stroke-width="0.75">Capsaicin</text><text y="24.8" font-size="20.8" stroke-width="0.75"><tspan x="527.6" textLength="11.6" lengthAdjust="spacingAndGlyphs">O</tspan><tspan x="539.6" textLength="7.4" lengthAdjust="spacingAndGlyphs">-</tspan><tspan x="547.6" textLength="34.0" lengthAdjust="spacingAndGlyphs">1602</tspan></text><text y="179.0" font-size="24.2" font-weight="bold" stroke-width="0.45"><tspan x="228.0" textLength="40.2" lengthAdjust="spacingAndGlyphs">Trpv</tspan><tspan x="268.8" textLength="9.6" lengthAdjust="spacingAndGlyphs">1</tspan></text><text y="179.2" font-size="24.2" font-weight="bold" stroke-width="0.45"><tspan x="582.3" textLength="37.6" lengthAdjust="spacingAndGlyphs">GPR</tspan><tspan x="621.2" textLength="9.2" lengthAdjust="spacingAndGlyphs">-</tspan><tspan x="631.4" textLength="22.0" lengthAdjust="spacingAndGlyphs">55</tspan></text><text x="28.6" y="535.5" font-size="17.6" font-weight="normal">•</text><text x="39.0" y="535.5" font-size="17.6" font-weight="normal" textLength="204.3" lengthAdjust="spacingAndGlyphs">Prevention of nerve cell decline</text><text x="28.6" y="557.6" font-size="17.6" font-weight="normal">•</text><text x="39.0" y="557.6" font-size="17.6" font-weight="normal" textLength="348.7" lengthAdjust="spacingAndGlyphs">Resynchronization of emission of energy potentials in</text><text x="27.6" y="579.8" font-size="17.6" font-weight="normal" textLength="128.4" lengthAdjust="spacingAndGlyphs">CA3 pyramidal cells</text><text x="28.6" y="601.9" font-size="17.6" font-weight="normal">•</text><text x="39.0" y="601.9" font-size="17.6" font-weight="normal" textLength="346.1" lengthAdjust="spacingAndGlyphs">Restoration of the balance between excitatory/inhibi-</text><text x="27.6" y="624.0" font-size="17.6" font-weight="normal" textLength="93.4" lengthAdjust="spacingAndGlyphs">tory potentials</text><text x="434.3" y="535.7" font-size="17.6" font-weight="normal">•</text><text x="443.4" y="535.3" font-size="18" font-family='"DejaVu Sans", sans-serif' stroke-width="0.3">↑</text><text x="458.8" y="535.7" font-size="17.6" font-weight="normal" textLength="288.6" lengthAdjust="spacingAndGlyphs">Cognitive functions, GSH, SOD, CAT, PSD-95,</text><text x="433.6" y="557.9" font-size="17.6" font-weight="normal" textLength="227.6" lengthAdjust="spacingAndGlyphs">Bcl-2, anti-inflammatory cytokines</text><text x="645.0" y="580.2" font-size="17.6" font-weight="normal" textLength="108.9" lengthAdjust="spacingAndGlyphs">pro-inflammato-</text><text x="434.3" y="580.2" font-size="17.6" font-weight="normal">•</text><text x="443.4" y="579.8" font-size="18" font-family='"DejaVu Sans", sans-serif' stroke-width="0.3">↓</text><text x="458.8" y="580.2" font-size="17.6" font-weight="normal" textLength="180.5" lengthAdjust="spacingAndGlyphs">sAβ<tspan font-size="11.5" dy="2.2">1-42</tspan><tspan dy="-2.2">, RhoA, ROCK2, MDA,</tspan></text><text x="433.6" y="602.3" font-size="17.6" font-weight="normal" textLength="306.2" lengthAdjust="spacingAndGlyphs">ry cytokines, microglial activation, NF-κB, p65,</text><text x="433.6" y="624.3" font-size="17.6" font-weight="normal" textLength="100.7" lengthAdjust="spacingAndGlyphs">Bax, caspase-3</text><text x="434.3" y="646.5" font-size="17.6" font-weight="normal">•</text><text x="444.6" y="646.5" font-size="17.6" font-weight="normal" textLength="223.9" lengthAdjust="spacingAndGlyphs">Reverse of GPR55 downregulation</text><text x="434.3" y="668.7" font-size="17.6" font-weight="normal">•</text><text x="444.6" y="668.7" font-size="17.6" font-weight="normal" textLength="302.8" lengthAdjust="spacingAndGlyphs">Prevention of AChE upregulation, hippocampal</text><text x="433.6" y="691.7" font-size="17.6" font-weight="normal" textLength="91.6" lengthAdjust="spacingAndGlyphs">cell apoptosis</text></g></svg></body></html>
